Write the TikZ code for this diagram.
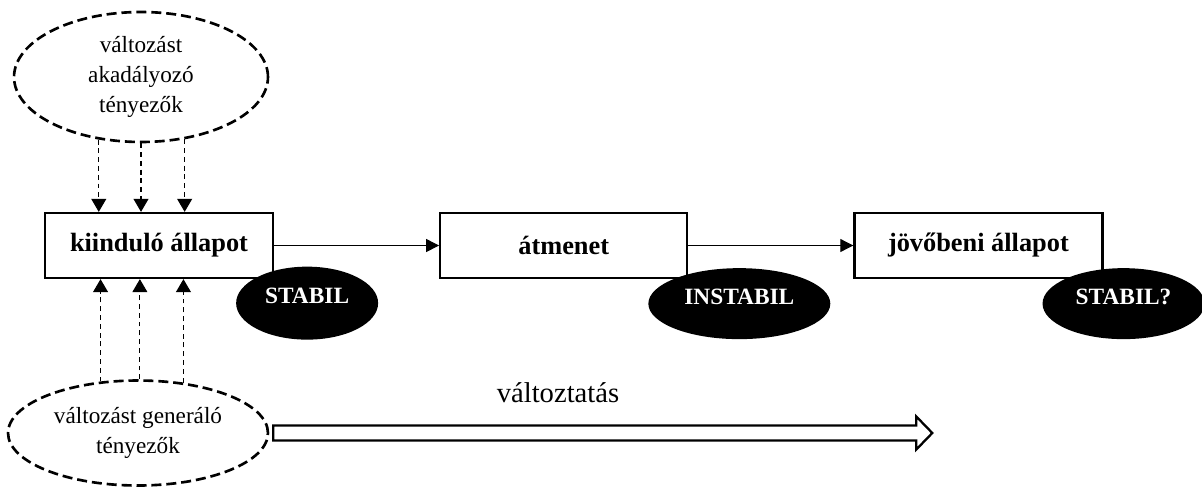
\documentclass[tikz,border=0pt]{standalone}
\usepackage{fontspec}
\setmainfont{Liberation Serif}
\usetikzlibrary{shapes.geometric,arrows.meta,positioning,calc}

\begin{document}
\begin{tikzpicture}[x=0.02cm, y=-0.02cm,
    state/.style={draw, line width=1.3pt, minimum height=1.3cm, inner sep=0pt,
        font=\fontsize{15}{18}\selectfont\bfseries},
    factor/.style={draw, ellipse, dash pattern=on 5.7pt off 2.8pt, line width=1.5pt,
        inner sep=0pt, align=center, font=\fontsize{13.2}{17}\selectfont},
    tag/.style={ellipse, fill=black, text=white, inner sep=1pt, text depth=8pt,
        font=\fontsize{13.3}{16}\selectfont\bfseries},
    flow/.style={-{Triangle[length=7.4pt, width=7.4pt]}, line width=0.6pt},
    push/.style={-{Triangle[length=7.4pt, width=8.5pt]}, line width=0.6pt,
        dash pattern=on 2.8pt off 2.2pt},
    hollowarrow/.style={draw, fill=white, line width=1.3pt, line join=miter}]
        \useasboundingbox (0,0) rectangle (1202,487);

        % the three states
        \node[state, minimum width=4.56cm] (kiind) at (159,245.5) {kiinduló állapot};
        \node[state, minimum width=4.94cm, right=3.3cm of kiind] (atm) {átmenet};
        \node[state, minimum width=4.96cm, right=3.3cm of atm] (jov) {jövőbeni állapot};

        \draw[flow] (kiind.east) -- (atm.west);
        \draw[flow] (atm.east) -- (atm.east -| jov.west);

        % factors
        \node[factor, minimum width=5.08cm, minimum height=2.6cm] (akad) at (141,77)
            {változást\\akadályozó\\tényezők};
        \node[factor, minimum width=5.2cm, minimum height=2.1cm] (gener) at (138,433)
            {változást generáló\\tényezők};

        \foreach \a in {236,270,305}
            \draw[push] (akad.\a) -- (akad.\a |- kiind.north);
        \foreach \a in {126,88,48}
            \draw[push] (gener.\a) -- (gener.\a |- kiind.south);

        % stability tags
        \node[tag, minimum width=2.84cm, minimum height=1.46cm] (stab1)
            at ($(kiind.south east)+(33,24)$) {STABIL};
        \node[tag, minimum width=3.64cm, minimum height=1.42cm] (instab)
            at ($(atm.south east)+(51,24.5)$) {INSTABIL};
        \node[tag, minimum width=3.24cm, minimum height=1.42cm] (stab2)
            at ($(jov.south east)+(20,24.5)$) {STABIL?};

        % change
        \draw[hollowarrow] ([shift={(4,-7.5)}]gener.east) -- ++(643,0) -- ++(0,-9)
            -- ++(16,16.5) -- ++(-16,16.5) -- ++(0,-9) -- ++(-643,0) -- cycle;
        \node[font=\fontsize{16.3}{20}\selectfont] (chg) at (558,393) {változtatás};
    \end{tikzpicture}
\end{document}
